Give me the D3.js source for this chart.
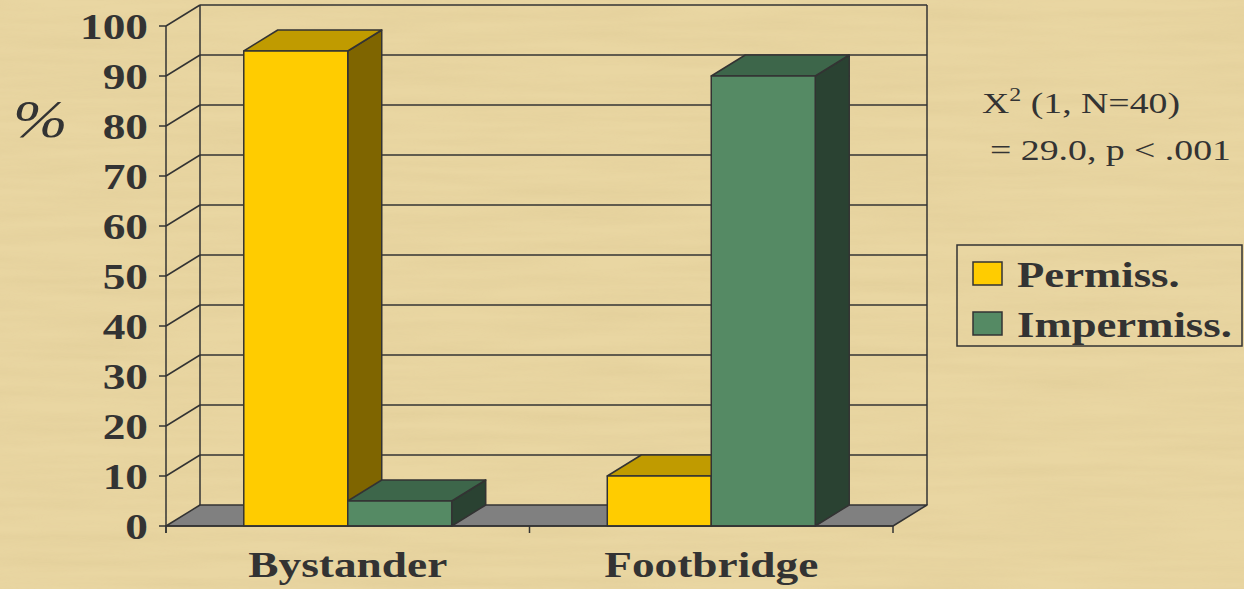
<!DOCTYPE html>
<html><head><meta charset="utf-8">
<script src="https://cdn.jsdelivr.net/npm/d3@7/dist/d3.min.js"></script>
<style>html,body{margin:0;padding:0;background:#E8D5A0;}svg{display:block;}</style>
</head><body>
<svg id="chart" width="1244" height="589"></svg>
<script>
const categories = ["Bystander", "Footbridge"];
const seriesNames = ["Permiss.", "Impermiss."];
const permissValues = [95, 10];
const impermissValues = [5, 90];
const yTickValues = [0, 10, 20, 30, 40, 50, 60, 70, 80, 90, 100];
const annotationLines = ["X", "= 29.0, p < .001"];

const W = 1244, H = 589;
const svg = d3.select("#chart");
const ink = "#333333";
const serif = "'Liberation Serif','Times New Roman',serif";
const stretch = 1.26;

// background with subtle papyrus texture
const defs = svg.append("defs");
const f = defs.append("filter").attr("id", "pap").attr("x", 0).attr("y", 0).attr("width", "100%").attr("height", "100%");
f.append("feTurbulence").attr("type", "fractalNoise").attr("baseFrequency", "0.006 0.09").attr("numOctaves", 3).attr("seed", 4).attr("result", "n");
f.append("feColorMatrix").attr("in", "n").attr("type", "matrix")
  .attr("values", "0 0 0 0 0.55  0 0 0 0 0.42  0 0 0 0 0.18  0 0 0 0.35 -0.1");
svg.append("rect").attr("width", W).attr("height", H).attr("fill", "#E9D6A2");
svg.append("rect").attr("width", W).attr("height", H).attr("filter", "url(#pap)").attr("opacity", 0.6);

// scales
const x = d3.scaleBand().domain(categories).range([166, 893]).paddingInner(0).paddingOuter(0);
const xs = d3.scaleBand().domain(seriesNames).range([0, x.bandwidth()]).paddingInner(0).paddingOuter(0.748);
const y = d3.scaleLinear().domain([0, 100]).range([526, 26]);
const dx = 34, dy = -21;
const x0 = x.range()[0], x1 = x.range()[1];

// floor
svg.append("polygon")
  .attr("points", [[x0, y(0)], [x0 + dx, y(0) + dy], [x1 + dx, y(0) + dy], [x1, y(0)]].map(p => p.join(",")).join(" "))
  .attr("fill", "#808080").attr("stroke", ink).attr("stroke-width", 1.5).attr("stroke-linejoin", "round");

// back wall gridlines
const g = svg.append("g").attr("stroke", ink).attr("stroke-width", 1.5).attr("fill", "none");
yTickValues.filter(v => v > 0).forEach(v => {
  g.append("line").attr("x1", x0 + dx).attr("x2", x1 + dx).attr("y1", y(v) + dy).attr("y2", y(v) + dy);
  g.append("line").attr("x1", x0).attr("x2", x0 + dx).attr("y1", y(v)).attr("y2", y(v) + dy);
});
g.append("line").attr("x1", x0 + dx).attr("x2", x0 + dx).attr("y1", y(100) + dy).attr("y2", y(0) + dy);
g.append("line").attr("x1", x1 + dx).attr("x2", x1 + dx).attr("y1", y(100) + dy).attr("y2", y(0) + dy);

// bars
const colors = {
  "Permiss.": {front: "#FFCC00", top: "#C09B00", side: "#7F6500"},
  "Impermiss.": {front: "#558A64", top: "#3D664A", side: "#2A4232"}
};
const rows = [];
categories.forEach((c, i) => {
  rows.push({cat: c, s: "Permiss.", v: permissValues[i]});
  rows.push({cat: c, s: "Impermiss.", v: impermissValues[i]});
});
const bars = svg.append("g").attr("stroke", ink).attr("stroke-width", 1.5).attr("stroke-linejoin", "round");
rows.forEach(d => {
  const bx0 = x(d.cat) + xs(d.s), bx1 = bx0 + xs.bandwidth();
  const by0 = y(0), by1 = y(d.v);
  const c = colors[d.s];
  const pts = a => a.map(p => p.join(",")).join(" ");
  bars.append("polygon").attr("fill", c.side)
    .attr("points", pts([[bx1, by0], [bx1, by1], [bx1 + dx, by1 + dy], [bx1 + dx, by0 + dy]]));
  bars.append("polygon").attr("fill", c.top)
    .attr("points", pts([[bx0, by1], [bx0 + dx, by1 + dy], [bx1 + dx, by1 + dy], [bx1, by1]]));
  bars.append("rect").attr("fill", c.front)
    .attr("x", bx0).attr("y", by1).attr("width", bx1 - bx0).attr("height", by0 - by1);
});

// axes
const ax = svg.append("g").attr("stroke", ink).attr("stroke-width", 1.5);
ax.append("line").attr("x1", x0).attr("x2", x0).attr("y1", y(100)).attr("y2", y(0) + 7);
ax.append("line").attr("x1", x0).attr("x2", x1).attr("y1", y(0)).attr("y2", y(0));
yTickValues.forEach(v => {
  ax.append("line").attr("x1", x0 - 7).attr("x2", x0).attr("y1", y(v)).attr("y2", y(v));
});
[x0, x0 + x.step(), x1].forEach(px => {
  ax.append("line").attr("x1", px).attr("x2", px).attr("y1", y(0)).attr("y2", y(0) + 7);
});

function stretchedText(parent, tx, ty, str, opts) {
  const t = parent.append("text")
    .attr("transform", `translate(${tx},${ty}) scale(${stretch},1)`)
    .attr("font-family", serif).attr("fill", ink)
    .attr("font-size", opts.size).attr("font-weight", opts.weight || "normal")
    .attr("font-style", opts.style || "normal")
    .attr("text-anchor", opts.anchor || "start")
    .text(str);
  return t;
}

yTickValues.forEach(v => {
  stretchedText(svg, 148, y(v) + 13, String(v), {size: 36, weight: "bold", anchor: "end"});
});
categories.forEach(c => {
  stretchedText(svg, x(c) + x.bandwidth() / 2, 577, c, {size: 36, weight: "bold", anchor: "middle"});
});
stretchedText(svg, 13, 137, "%", {size: 52, style: "italic"});

// annotation
const ann = stretchedText(svg, 982, 113, annotationLines[0], {size: 30});
ann.append("tspan").attr("font-size", 19).attr("dy", -12).text("2");
ann.append("tspan").attr("dy", 12).text(" (1, N=40)");
stretchedText(svg, 990, 160, annotationLines[1], {size: 30});

// legend
const lg = svg.append("g");
lg.append("rect").attr("x", 957).attr("y", 245).attr("width", 285).attr("height", 101)
  .attr("fill", "none").attr("stroke", ink).attr("stroke-width", 1.5);
seriesNames.forEach((s, i) => {
  const yy = 262 + i * 50;
  lg.append("rect").attr("x", 973).attr("y", yy).attr("width", 29).attr("height", 23)
    .attr("fill", colors[s].front).attr("stroke", ink).attr("stroke-width", 1.5);
  stretchedText(lg, 1017, yy + 25, s, {size: 35.5, weight: "bold"});
});
</script>
</body></html>
